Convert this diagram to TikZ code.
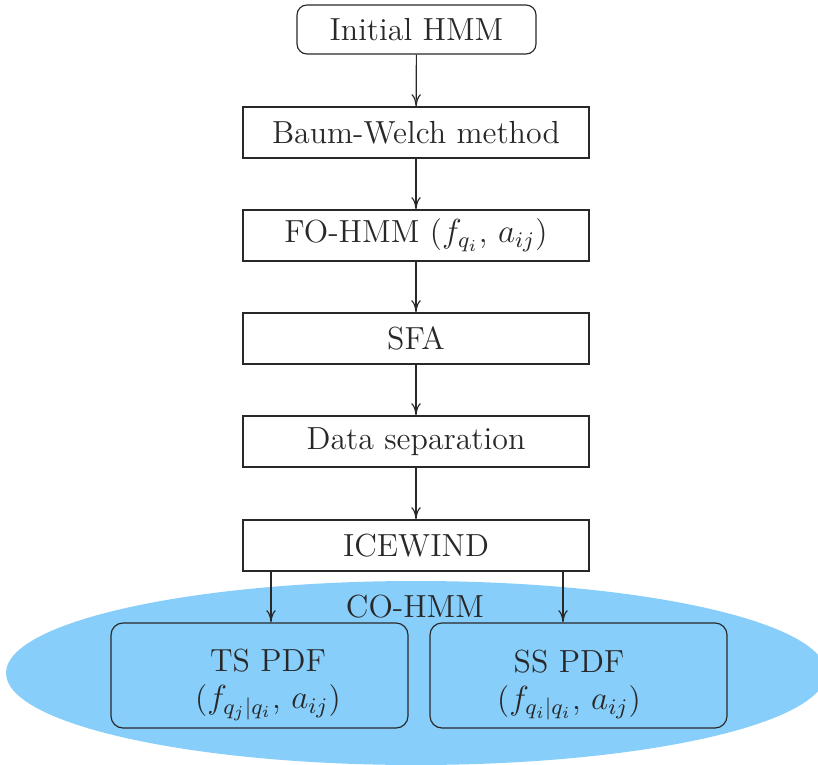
\documentclass[tikz,border=0pt]{standalone}
\usetikzlibrary{shapes.geometric,arrows.meta}
\definecolor{cohmmblue}{RGB}{135,206,250}
\definecolor{ink}{RGB}{40,40,40}
\begin{document}
\begin{tikzpicture}[x=0.36pt,y=-0.36pt,
  every node/.style={text=ink,font=\fontsize{11.5}{13.4}\selectfont},
  stepbox/.style={draw=ink,line width=0.42pt,minimum width=124.56pt,minimum height=18.36pt,inner sep=0pt},
  startbox/.style={draw=ink,line width=0.42pt,rounded corners=3.6pt,minimum width=86.04pt,minimum height=17.64pt,inner sep=0pt},
  pdfbox/.style={draw=ink,line width=0.42pt,rounded corners=4.3pt,minimum width=106.92pt,minimum height=37.8pt,inner sep=0pt},
  flow/.style={-{To[length=4.4pt,width=3.4pt]},draw=ink,line width=0.42pt}]
\useasboundingbox (0,0) rectangle (818,765);
% CO-HMM region
\node[ellipse,fill=cohmmblue,minimum width=295.2pt,minimum height=66.24pt,inner sep=0pt] (co) at (416,673) {};
\node (colabel) at (415,607) {CO-HMM};
% processing chain
\node[startbox] (init) at (416.5,29.5) {Initial HMM};
\node[stepbox] (bw) at (416,132.5) {Baum-Welch method};
\node[stepbox] (fo) at (416,235.5) {FO-HMM (\(f_{q_i}\), \(a_{ij}\))};
\node[stepbox] (sfa) at (416,338.5) {SFA};
\node[stepbox] (ds) at (416,441.5) {Data separation};
\node[stepbox] (ice) at (416,545.5) {ICEWIND};
% output distributions
\node[pdfbox] (ts) at (259.5,675.5) {};
\node[pdfbox] (ss) at (578.5,675.5) {};
\node[align=center] (tstext) at (268,685) {TS PDF\\(\(f_{q_j|q_i}\), \(a_{ij}\))};
\node[align=center] (sstext) at (569,685) {SS PDF\\(\(f_{q_i|q_i}\), \(a_{ij}\))};
% connectors
\draw[flow] (init) -- (bw);
\draw[flow] (bw) -- (fo);
\draw[flow] (fo) -- (sfa);
\draw[flow] (sfa) -- (ds);
\draw[flow] (ds) -- (ice);
\draw[flow] ([xshift=-52.2pt]ice.south) -- ([xshift=-52.2pt]ice.south |- ts.north);
\draw[flow] ([xshift=52.92pt]ice.south) -- ([xshift=52.92pt]ice.south |- ss.north);
\end{tikzpicture}
\end{document}
